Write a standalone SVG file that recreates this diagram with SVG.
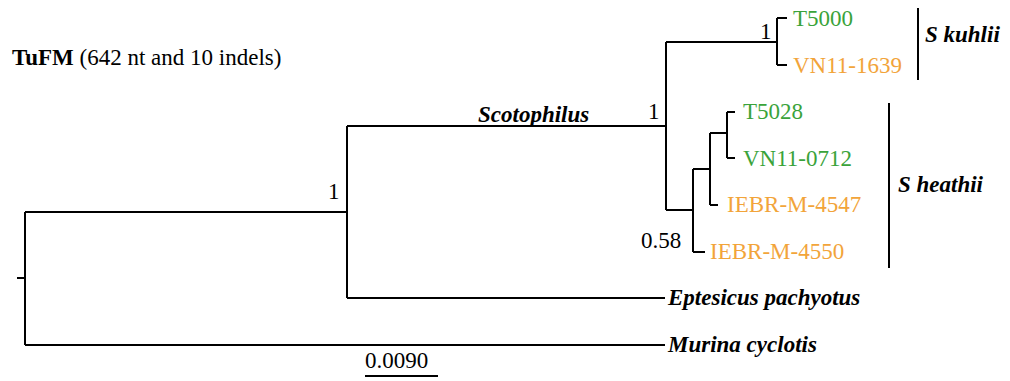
<svg xmlns="http://www.w3.org/2000/svg" width="1010" height="381" viewBox="0 0 1010 381">
<style>
text{font-family:"Liberation Serif","Times New Roman",serif;font-size:23px;fill:#000}
.b{font-weight:bold}
.bi{font-weight:bold;font-style:italic}
.g{fill:#3aa33a}
.o{fill:#f2a43a}
.ln{fill:none;stroke:#000;stroke-width:2}
</style>
<rect width="1010" height="381" fill="#fff"/>
<text id="title" x="12" y="65"><tspan class="b">TuFM</tspan> (642 nt and 10 indels)</text>
<g id="connectors" class="ln">
<path d="M17 278H25M25 212V345M25 212H347M25 345H665"/>
<path d="M347 126V298M347 126H666M347 298H665"/>
<path d="M666 42V210M666 42H777M777 18V65M777 18H787M777 65H787"/>
<path d="M666 210H693M693 169V252M693 252H705M693 169H710M710 133V205M710 205H718M710 133H727M727 112V158M727 112H735M727 158H735"/>
<path d="M918 8V80M889 103V268M365 376H438"/>
</g>
<g id="support">
<text x="328" y="199">1</text>
<text x="648" y="119">1</text>
<text x="760" y="39">1</text>
<text x="641" y="248">0.58</text>
</g>
<g id="clade-scotophilus"><text class="bi" x="478" y="122">Scotophilus</text></g>
<g id="T5000"><text class="g" x="793" y="26">T5000</text></g>
<g id="VN11-1639"><text class="o" x="793" y="73">VN11-1639</text></g>
<g id="T5028"><text class="g" x="743" y="119">T5028</text></g>
<g id="VN11-0712"><text class="g" x="743" y="166">VN11-0712</text></g>
<g id="IEBR-M-4547"><text class="o" x="727" y="212">IEBR-M-4547</text></g>
<g id="IEBR-M-4550"><text class="o" x="710" y="259">IEBR-M-4550</text></g>
<g id="Eptesicus"><text class="bi" x="668" y="305">Eptesicus pachyotus</text></g>
<g id="Murina"><text class="bi" x="668" y="352">Murina cyclotis</text></g>
<g id="S-kuhlii"><text class="bi" x="925" y="42">S kuhlii</text></g>
<g id="S-heathii"><text class="bi" x="898" y="192">S heathii</text></g>
<g id="scale"><text x="365" y="368">0.0090</text></g>
</svg>
